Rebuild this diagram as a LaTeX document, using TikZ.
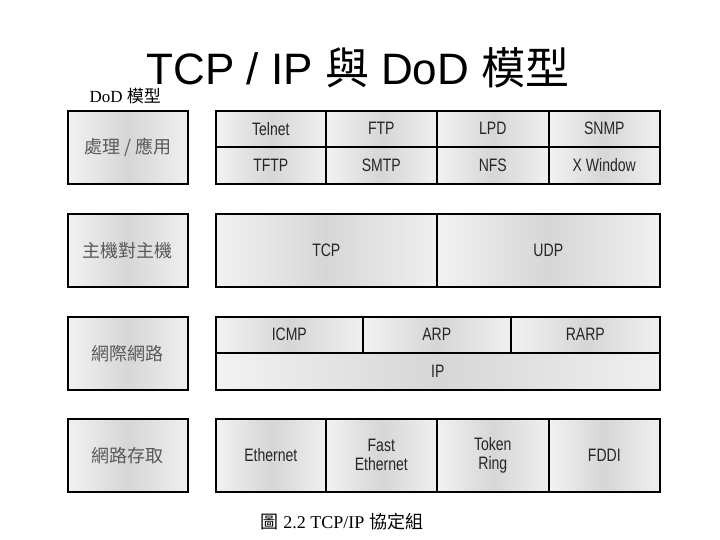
\documentclass[tikz,border=0pt]{standalone}
\usepackage{fontspec}
\setmainfont{Liberation Serif}
\newfontfamily\cjk{Noto Sans CJK TC}
\newfontfamily\condfont[FakeStretch=0.78]{Liberation Sans}
\newfontfamily\titlefont{Liberation Sans}
\tikzset{
  metal/.style={draw, line width=1.6pt, left color=gray!10, right color=gray!12, middle color=gray!32, anchor=north west, inner sep=0pt},
  dodbox/.style={metal, minimum width=120pt, minimum height=73pt, font=\cjk\fontsize{18}{18}\selectfont, text=black!65},
  proto/.style={metal, font=\condfont\fontsize{18}{18}\selectfont, align=center, text=black!85},
}
\begin{document}
\begin{tikzpicture}[x=1pt,y=-1pt]
        \useasboundingbox (0,0) rectangle (720,540);
        % titles
        \node (title) at (358,68) {\titlefont\fontsize{44}{44}\selectfont TCP / IP {\cjk 與} DoD {\cjk 模型}};
        \node[anchor=west] (dod) at (86,96) {\fontsize{17}{17}\selectfont DoD {\cjk 模型}};
        \node (caption) at (342,522) {\fontsize{18}{18}\selectfont {\cjk 圖} 2.2 TCP/IP {\cjk 協定組}};
        % DoD layers
        \node[dodbox] (app) at (67,110) {處理 / 應用};
        \node[dodbox] (h2h) at (67,213) {主機對主機};
        \node[dodbox] (inet) at (67,316) {網際網路};
        \node[dodbox] (nacc) at (67,418) {網路存取};
        % process / application
        \node[proto, minimum width=110pt, minimum height=36pt] (telnet) at (215,110) {Telnet};
        \node[proto, minimum width=111pt, minimum height=36pt] (ftp) at (325,110) {FTP};
        \node[proto, minimum width=112pt, minimum height=36pt] (lpd) at (436,110) {LPD};
        \node[proto, minimum width=111pt, minimum height=36pt] (snmp) at (548,110) {SNMP};
        \node[proto, minimum width=110pt, minimum height=37pt] (tftp) at (215,146) {TFTP};
        \node[proto, minimum width=111pt, minimum height=37pt] (smtp) at (325,146) {SMTP};
        \node[proto, minimum width=112pt, minimum height=37pt] (nfs) at (436,146) {NFS};
        \node[proto, minimum width=111pt, minimum height=37pt] (xwin) at (548,146) {X Window};
        % host to host
        \node[proto, minimum width=221pt, minimum height=73pt] (tcp) at (215,213) {TCP};
        \node[proto, minimum width=223pt, minimum height=73pt] (udp) at (436,213) {UDP};
        % internet
        \node[proto, minimum width=147pt, minimum height=36pt] (icmp) at (215,316) {ICMP};
        \node[proto, minimum width=148pt, minimum height=36pt] (arp) at (362,316) {ARP};
        \node[proto, minimum width=149pt, minimum height=36pt] (rarp) at (510,316) {RARP};
        \node[proto, minimum width=444pt, minimum height=37pt] (ip) at (215,352) {IP};
        % network access
        \node[proto, minimum width=110pt, minimum height=73pt] (eth) at (215,418) {Ethernet};
        \node[proto, minimum width=111pt, minimum height=73pt] (feth) at (325,418) {Fast\\[1pt]Ethernet};
        \node[proto, minimum width=112pt, minimum height=73pt] (token) at (436,418) {Token\\[1pt]Ring};
        \node[proto, minimum width=111pt, minimum height=73pt] (fddi) at (548,418) {FDDI};
\end{tikzpicture}
\end{document}
